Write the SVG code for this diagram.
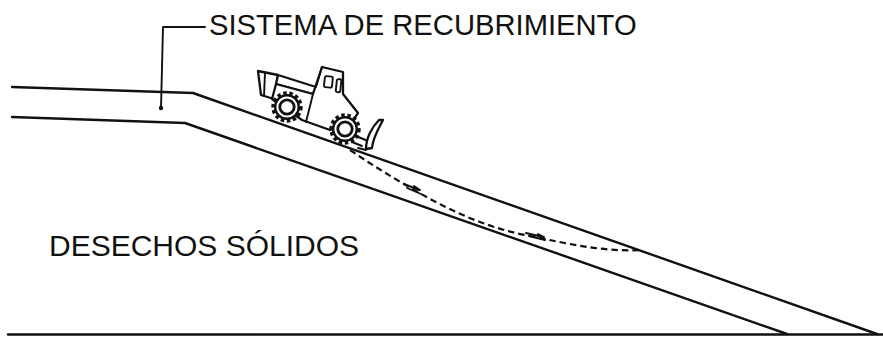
<svg xmlns="http://www.w3.org/2000/svg" width="883" height="337" viewBox="0 0 883 337">
  <style>
    .ln { fill: none; stroke: #111; stroke-width: 2.4; stroke-linecap: round; stroke-linejoin: round; }
    .thin { fill: none; stroke: #111; stroke-width: 1.9; stroke-linecap: round; stroke-linejoin: round; }
    .body { fill: #fff; stroke: #111; stroke-width: 2.3; stroke-linejoin: round; }
    .dash { fill: none; stroke: #111; stroke-width: 2.2; stroke-dasharray: 6.5 4; }
    .lbl { font-family: "Liberation Sans", Arial, sans-serif; fill: #111; }
  </style>
  <defs>
    <!-- toothed wheel used by the loader -->
    <g id="wheel">
      <circle r="13.6" fill="none" stroke="#111" stroke-width="4.2" stroke-dasharray="3.4 2.6"/>
      <circle r="11.8" fill="#fff" stroke="#111" stroke-width="2.4"/>
      <circle r="7.2" fill="none" stroke="#111" stroke-width="2.8"/>
    </g>
  </defs>

  <rect width="883" height="337" fill="#fff"/>

  <!-- ground surfaces -->
  <g id="cover-top">
    <polyline class="ln" points="12,87 193,93 877,334"/>
  </g>
  <g id="cover-bottom">
    <polyline class="ln" points="12,117 185,123 787,334"/>
  </g>
  <g id="base">
    <line class="ln" x1="8" y1="334.5" x2="883" y2="334.5" stroke-width="2"/>
  </g>

  <!-- leader to the cover system label -->
  <g id="cover-label">
    <polyline class="thin" points="161,108 163,27 205,27"/>
    <circle cx="161" cy="108" r="2.2" fill="#111"/>
    <text class="lbl" x="209" y="35" font-size="29.2">SISTEMA DE RECUBRIMIENTO</text>
  </g>

  <g id="waste-label">
    <text class="lbl" x="49" y="256" font-size="30">DESECHOS SÓLIDOS</text>
  </g>

  <!-- soil movement path -->
  <g id="connectors">
    <path class="dash" d="M350,150 C375,167 398,181 430,199 C460,215 492,229 530,236 C570,244 602,252 642,250"/>
    <path class="thin" d="M404,184 L419,190 M407,188 L421,194 M414,186 L420,190"/>
    <path class="thin" d="M526,233 L543,237 M529,236 L545,240 M538,234 L544,237"/>
  </g>

  <!-- loader on the slope -->
  <g id="loader">
    <!-- rear engine block -->
    <polygon class="body" points="258,71 278,75 274,99 261,95"/>
    <line class="thin" x1="265" y1="73" x2="264" y2="96"/>
    <!-- hood -->
    <polygon class="body" points="278,75 316,87 313,94 276,84"/>
    <!-- lower body and cab -->
    <polygon class="body" points="276,84 313,94 322,67 343,72 343,94 358,113 350,125 330,130 302,120 272,99"/>
    <line class="thin" x1="313" y1="94" x2="306" y2="122"/>
    <line class="thin" x1="316" y1="87" x2="322" y2="67"/>
    <!-- cab windows -->
    <rect class="thin" x="0" y="0" width="8" height="11" rx="1.5" transform="translate(325,76) rotate(6)"/>
    <rect class="thin" x="0" y="0" width="4.5" height="13" rx="1.5" transform="translate(337,79) rotate(6)"/>
    <!-- wheels -->
    <use href="#wheel" x="287" y="107"/>
    <use href="#wheel" x="345" y="129"/>
    <!-- blade arm and blade -->
    <path class="thin" d="M356,136 L368,141 L372,138"/>
    <path class="body" d="M383,120 C379,128 373,137 372,148 L366,149 C366,138 372,127 379,120 Z"/>
    <path class="thin" d="M352,142 L362,146 M358,148 L366,150"/>
  </g>
</svg>
